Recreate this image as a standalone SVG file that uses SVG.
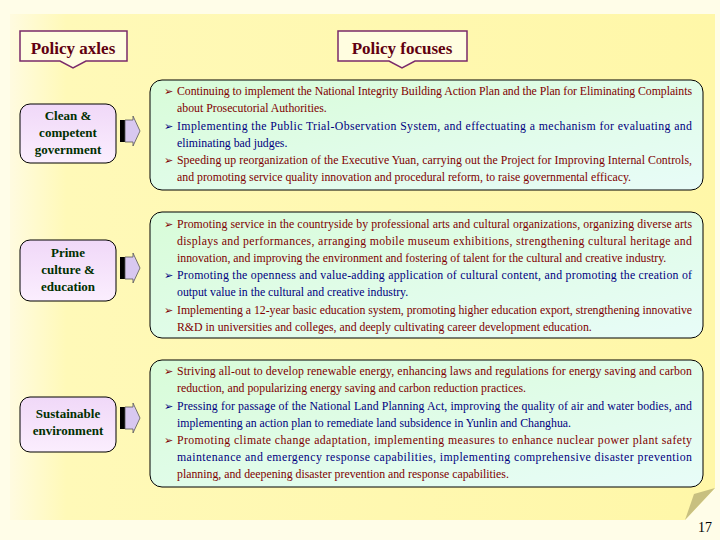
<svg xmlns="http://www.w3.org/2000/svg" width="720" height="540" viewBox="0 0 720 540">
<defs>
<linearGradient id="bg" x1="0" y1="0" x2="1" y2="0"><stop offset="0" stop-color="#fffbe0"/><stop offset="0.08" stop-color="#fff9b8"/><stop offset="1" stop-color="#fff7a8"/></linearGradient>
<linearGradient id="mint" x1="0" y1="0" x2="1" y2="1"><stop offset="0" stop-color="#d8fcd8"/><stop offset="1" stop-color="#e8fcf8"/></linearGradient>
<linearGradient id="lav" x1="0" y1="0" x2="0" y2="1"><stop offset="0" stop-color="#f0d8f8"/><stop offset="1" stop-color="#fbeefe"/></linearGradient>
<g id="arr"><rect x="0" y="0" width="5" height="22" fill="#000"/><path d="M5 0 H13 V-4 L20 11 L13 26 V22 H5 Z" fill="#d8c8f0" stroke="#555" stroke-width="0.8"/></g>
</defs>
<style>
.t{font-family:"Liberation Serif",serif;font-size:11.8px}
.r{fill:#800000}.b{fill:#000080}
.bl{font-family:"DejaVu Sans",sans-serif;font-size:11px}
.lb{font-family:"Liberation Serif",serif;font-size:13px;font-weight:bold;fill:#003000;text-anchor:middle}
.hd{font-family:"Liberation Serif",serif;font-size:17px;font-weight:bold;fill:#600010;text-anchor:middle}
.fb{fill:url(#mint);stroke:#000;stroke-width:1}
.lbx{fill:url(#lav);stroke:#000;stroke-width:1}
</style>
<rect width="720" height="540" fill="#fffde8"/>
<path d="M10 14 H715 V488 L685 520 H10 Z" fill="url(#bg)"/>
<path d="M685 520 L694 494 L715 488 Z" fill="#c8c080"/>
<g id="headers">
<path d="M20 31 H127 V61 H86 L73 68 L60 61 H20 Z" fill="#fffde0" stroke="#7a2a6a" stroke-width="1.5"/>
<text class="hd" x="73" y="54">Policy axles</text>
<path d="M338 31 H467 V61 H415 L402 68 L389 61 H338 Z" fill="#fffde0" stroke="#7a2a6a" stroke-width="1.5"/>
<text class="hd" x="402" y="54">Policy focuses</text>
</g>
<g id="axle1"><rect class="lbx" x="20" y="104" width="96" height="59" rx="10"/>
<text class="lb" x="68" y="120">Clean &amp;</text><text class="lb" x="68" y="137">competent</text><text class="lb" x="68" y="154">government</text></g>
<g id="axle2"><rect class="lbx" x="20" y="240" width="96" height="61" rx="10"/>
<text class="lb" x="68" y="257">Prime</text><text class="lb" x="68" y="274">culture &amp;</text><text class="lb" x="68" y="291">education</text></g>
<g id="axle3"><rect class="lbx" x="20" y="397" width="96" height="55" rx="10"/>
<text class="lb" x="68" y="418">Sustainable</text><text class="lb" x="68" y="435">environment</text></g>
<g id="connectors">
<use href="#arr" x="120" y="120"/>
<use href="#arr" x="120" y="257"/>
<use href="#arr" x="120" y="407"/>
</g>
<g id="focus1"><rect class="fb" x="150" y="80" width="553" height="110" rx="12"/>
<g class="t r"><text class="bl" x="164" y="95">➢</text><text x="177" y="95" textLength="515" lengthAdjust="spacing">Continuing to implement the National Integrity Building Action Plan and the Plan for Eliminating Complaints</text><text x="177" y="112">about Prosecutorial Authorities.</text></g>
<g class="t b"><text class="bl" x="164" y="130">➢</text><text x="177" y="130" textLength="515" lengthAdjust="spacing">Implementing the Public Trial-Observation System, and effectuating a mechanism for evaluating and</text><text x="177" y="147">eliminating bad judges.</text></g>
<g class="t r"><text class="bl" x="164" y="164">➢</text><text x="177" y="164" textLength="515" lengthAdjust="spacing">Speeding up reorganization of the Executive Yuan, carrying out the Project for Improving Internal Controls,</text><text x="177" y="181">and promoting service quality innovation and procedural reform, to raise governmental efficacy.</text></g>
</g>
<g id="focus2"><rect class="fb" x="150" y="212" width="553" height="126" rx="12"/>
<g class="t r"><text class="bl" x="164" y="228">➢</text><text x="177" y="228" textLength="515" lengthAdjust="spacing">Promoting service in the countryside by professional arts and cultural organizations, organizing diverse arts</text><text x="177" y="245" textLength="515" lengthAdjust="spacing">displays and performances, arranging mobile museum exhibitions, strengthening cultural heritage and</text><text x="177" y="262">innovation, and improving the environment and fostering of talent for the cultural and creative industry.</text></g>
<g class="t b"><text class="bl" x="164" y="279">➢</text><text x="177" y="279" textLength="515" lengthAdjust="spacing">Promoting the openness and value-adding application of cultural content, and promoting the creation of</text><text x="177" y="296">output value in the cultural and creative industry.</text></g>
<g class="t r"><text class="bl" x="164" y="314">➢</text><text x="177" y="314" textLength="515" lengthAdjust="spacing">Implementing a 12-year basic education system, promoting higher education export, strengthening innovative</text><text x="177" y="331">R&amp;D in universities and colleges, and deeply cultivating career development education.</text></g>
</g>
<g id="focus3"><rect class="fb" x="150" y="360" width="553" height="127" rx="12"/>
<g class="t r"><text class="bl" x="164" y="375">➢</text><text x="177" y="375" textLength="515" lengthAdjust="spacing">Striving all-out to develop renewable energy, enhancing laws and regulations for energy saving and carbon</text><text x="177" y="392">reduction, and popularizing energy saving and carbon reduction practices.</text></g>
<g class="t b"><text class="bl" x="164" y="410">➢</text><text x="177" y="410" textLength="515" lengthAdjust="spacing">Pressing for passage of the National Land Planning Act, improving the quality of air and water bodies, and</text><text x="177" y="427">implementing an action plan to remediate land subsidence in Yunlin and Changhua.</text></g>
<g class="t r"><text class="bl" x="164" y="444">➢</text><text x="177" y="444" textLength="515" lengthAdjust="spacing">Promoting climate change adaptation, implementing measures to enhance nuclear power plant safety</text><text x="177" y="461" textLength="515" lengthAdjust="spacing" class="b">maintenance and emergency response capabilities, implementing comprehensive disaster prevention</text><text x="177" y="478">planning, and deepening disaster prevention and response capabilities.</text></g>
</g>
<text x="712" y="532" font-family="Liberation Serif,serif" font-size="14" text-anchor="end">17</text>
</svg>
